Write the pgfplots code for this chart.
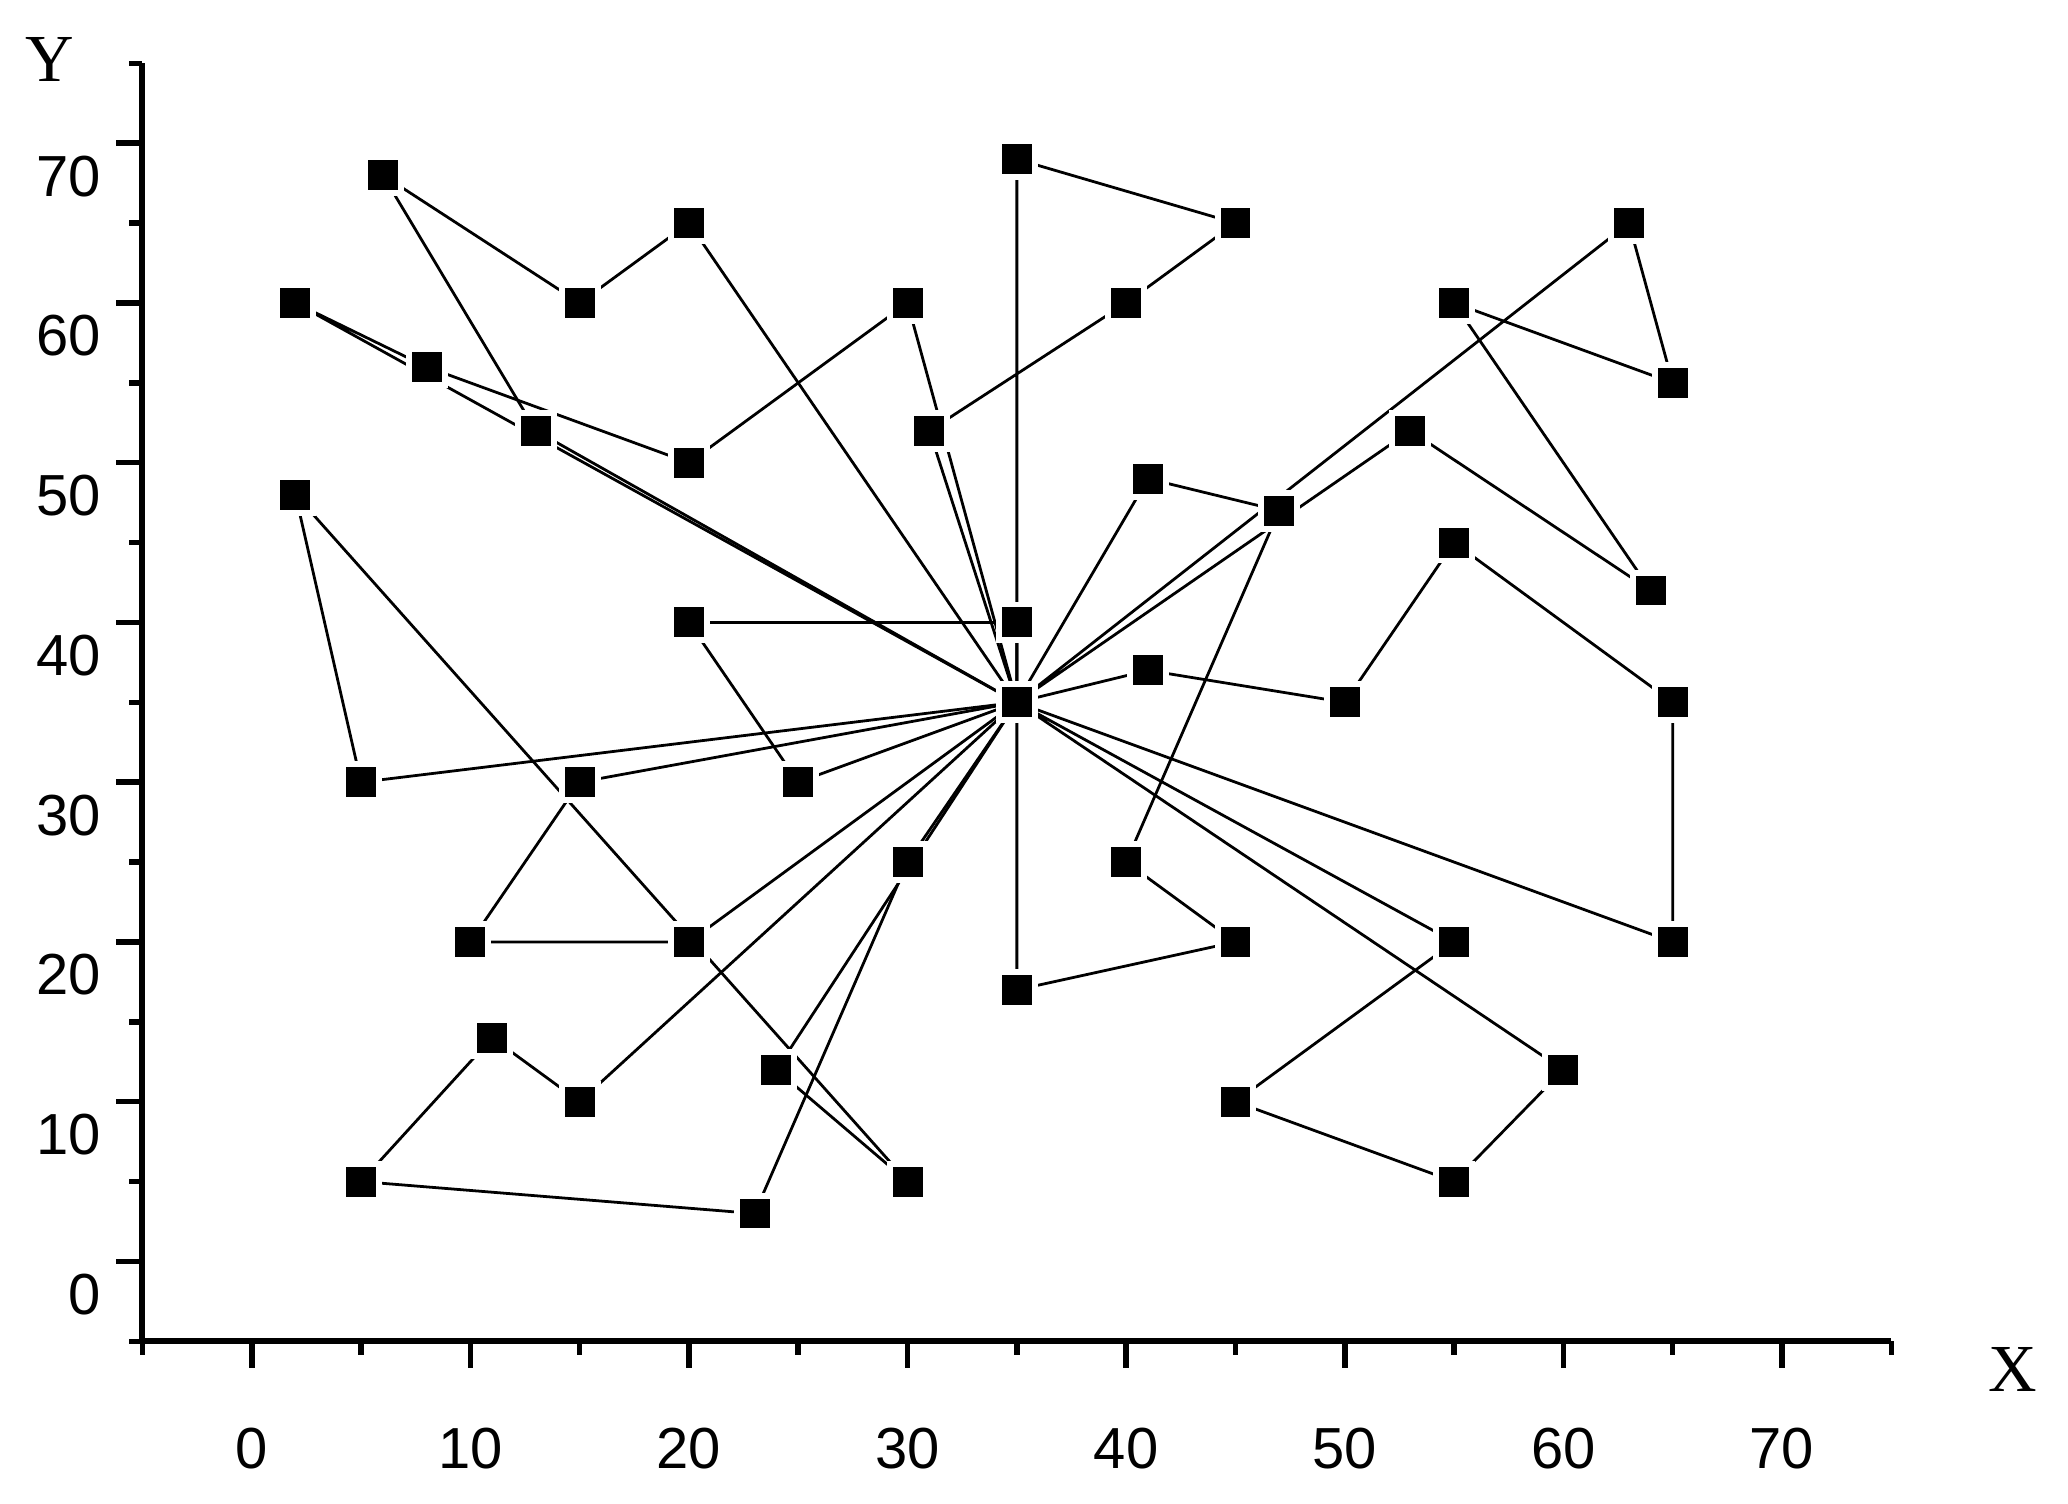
\documentclass[border=0pt]{standalone}
\usepackage{fontspec}
\setmainfont{Liberation Sans}
\newfontfamily\seriffont{Liberation Serif}
\usepackage{pgfplots}
\pgfplotsset{compat=1.18}
\begin{document}
\begin{tikzpicture}
\useasboundingbox (-1.08cm,-1.23cm) rectangle (14.60cm,10.17cm);
\begin{axis}[
  at={(0,0)}, anchor=south west,
  scale only axis, width=13.26cm, height=9.69cm,
  xmin=-5, xmax=75, ymin=-5, ymax=75,
  axis lines=left,
  axis line style={-, line width=1.3pt},
  xtick={0,10,...,70}, ytick={0,10,...,70},
  minor xtick={-5,5,...,75}, minor ytick={-5,5,...,75},
  tick align=outside,
  major tick length=2mm, minor tick length=1mm,
  tick style={black, line width=1.2pt},
  tick label style={font=\fontsize{12.5}{15}\selectfont, inner sep=0pt},
  /pgf/number format/assume math mode=true,
  xticklabel style={anchor=north, yshift=-4.5mm},
  yticklabel style={anchor=east, xshift=-1.1mm, yshift=-2.5mm},
  route/.style={black, line width=0.6pt, no marks},
  clip=false,
]
% routes, each starts and ends at the depot (35,35)
\addplot[route] coordinates {(35,35)(35,40)(20,40)(25,30)(35,35)};
\addplot[route] coordinates {(35,35)(2,60)(8,56)(20,50)(30,60)(35,35)};
\addplot[route] coordinates {(35,35)(13,52)(6,68)(15,60)(20,65)(35,35)};
\addplot[route] coordinates {(35,35)(35,69)(45,65)(40,60)(31,52)(35,35)};
\addplot[route] coordinates {(35,35)(41,49)(47,47)(40,25)(45,20)(35,17)(35,35)};
\addplot[route] coordinates {(35,35)(63,65)(65,55)(55,60)(64,42)(53,52)(35,35)};
\addplot[route] coordinates {(35,35)(41,37)(50,35)(55,45)(65,35)(65,20)(35,35)};
\addplot[route] coordinates {(35,35)(55,20)(45,10)(55,5)(60,12)(35,35)};
\addplot[route] coordinates {(35,35)(5,30)(2,48)(30,5)(24,12)(35,35)};
\addplot[route] coordinates {(35,35)(15,10)(11,14)(5,5)(23,3)(30,25)(35,35)};
\addplot[route] coordinates {(35,35)(15,30)(10,20)(20,20)(35,35)};
% customers and depot
\addplot[only marks, mark=square*, mark size=1.36mm,
  mark options={fill=black, draw=white, line width=0.45mm}] coordinates {
  (35,35)
  (2,60)(6,68)(15,60)(20,65)(8,56)(13,52)(20,50)(30,60)(31,52)
  (35,69)(45,65)(40,60)(63,65)(55,60)(65,55)(53,52)(41,49)(47,47)
  (64,42)(55,45)(65,35)(41,37)(50,35)(35,40)(20,40)(2,48)(5,30)
  (15,30)(25,30)(10,20)(20,20)(30,25)(40,25)(45,20)(35,17)(55,20)
  (65,20)(11,14)(15,10)(24,12)(60,12)(45,10)(5,5)(30,5)(55,5)(23,3)
};
\node[font=\seriffont\fontsize{14.5}{16}\selectfont, xshift=-7mm, yshift=0.3mm] at (rel axis cs:0,1) {Y};
\node[font=\seriffont\fontsize{14.5}{16}\selectfont, xshift=9.2mm, yshift=-2.1mm] at (rel axis cs:1,0) {X};
\end{axis}
\end{tikzpicture}
\end{document}
